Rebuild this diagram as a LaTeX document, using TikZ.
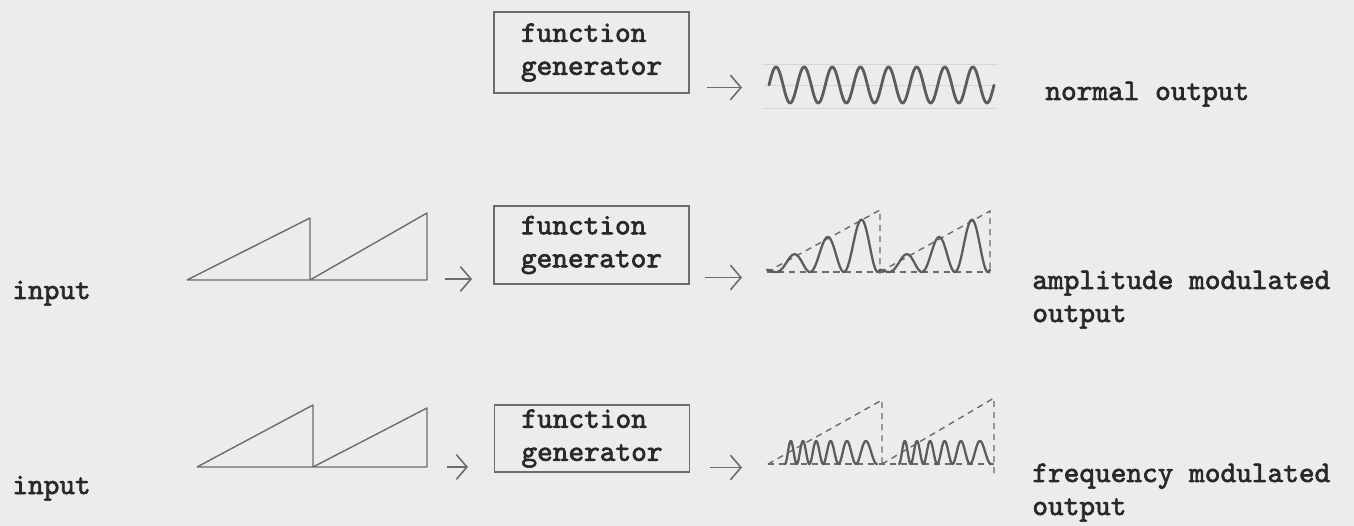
\documentclass[tikz,border=0pt]{standalone}
\usepackage{fontspec}
\usetikzlibrary{arrows.meta}
\newfontfamily\typewriter{lmmono10-regular}[Extension=.otf, FakeBold=2.2]
\definecolor{paper}{RGB}{236,236,234}
\definecolor{ink}{RGB}{40,40,40}
\definecolor{pencil}{RGB}{108,108,108}
\definecolor{wave}{RGB}{92,92,92}
\definecolor{guide}{RGB}{214,214,212}
\begin{document}
\begin{tikzpicture}[x=0.02cm, y=-0.02cm,
  txt/.style={font=\typewriter\fontsize{17}{18.8}\selectfont, text=ink, inner sep=0pt},
  genbox/.style={txt, draw=pencil, line width=0.9pt, align=left, minimum width=3.9cm},
  saw/.style={draw=pencil, line width=0.8pt, line join=round},
  env/.style={draw=pencil, line width=0.8pt, dash pattern=on 3.5pt off 2.8pt},
  sig/.style={draw=wave, line width=1.3pt, line join=round, line cap=round},
  guideline/.style={draw=guide, line width=0.5pt},
  flow/.style={draw=pencil, line width=0.9pt, -{Straight Barb[length=6pt,width=14pt]}},
]
% paper
\fill[paper] (0,0) rectangle (1354,526);
\useasboundingbox (0,0) rectangle (1354,526);

% ---------- generator blocks ----------
\node[genbox, minimum height=1.62cm] (gen1) at (591.5,52.5) {function\\generator};
\node[genbox, minimum height=1.56cm] (gen2) at (591.5,245) {function\\generator};
\node[genbox, minimum height=1.34cm] (gen3) at (592,438.5) {function\\generator};

% ---------- labels ----------
\node[txt, anchor=base west] (in2) at (12,299) {input};
\node[txt, anchor=base west] (in3) at (12,494) {input};
\node[txt, anchor=base west] (out1) at (1045,100) {normal output};
\node[txt, anchor=base west, align=left] (out2) at (1032,322) {amplitude modulated\\output};
\node[txt, anchor=base west, align=left] (out3) at (1032,515) {frequency modulated\\output};

% ---------- sawtooth inputs ----------
\coordinate (s2a) at (187,280);
\coordinate (s2b) at (310,280);
\coordinate (s2c) at (427,280);
\draw[saw] (s2a) -- (310,218) -- (s2b) -- (427,213) -- (s2c) -- (s2a);
\coordinate (s3a) at (197,467);
\coordinate (s3b) at (313,467);
\coordinate (s3c) at (427,467);
\draw[saw] (s3a) -- (313,405) -- (s3b) -- (427,408) -- (s3c) -- (s3a);

% ---------- arrows ----------
\coordinate (a1s) at (707,87.5);  \coordinate (a1e) at (742,87.5);
\coordinate (b1s) at (445,279);   \coordinate (b1e) at (472,279);
\coordinate (b2s) at (705,277.5); \coordinate (b2e) at (742,277.5);
\coordinate (c1s) at (447,467);   \coordinate (c1e) at (468,467);
\coordinate (c2s) at (710,467.5); \coordinate (c2e) at (742,467.5);
\draw[flow] (a1s) -- (a1e);
\draw[flow] (b1s) -- (b1e);
\draw[flow] (b2s) -- (b2e);
\draw[flow] (c1s) -- (c1e);
\draw[flow] (c2s) -- (c2e);

% ---------- normal output: plain sine ----------
\draw[guideline] (762,64) -- (998,64);
\draw[guideline] (765,85) -- (996,85);
\draw[guideline] (762,108) -- (996,108);
\draw[sig, line width=1.6pt] plot[domain=0:1, samples=260] ({769 + 225*\x}, {85 - 18*sin(2880*\x)});

% ---------- amplitude modulated output ----------
\draw[env] (767,272) -- (880,210) -- (880,274);
\draw[env] (880,272) -- (990,211) -- (990,274);
\draw[env] (767,272) -- (990,272);
\foreach \xo/\w in {767/113, 880/110}{
  \draw[sig] plot[domain=0:1, samples=160]
    ({\xo + \w*\x}, {272 - (4 + 58*\x)*(1 - cos(1199*\x - 95.7))/2});
}

% ---------- frequency modulated output ----------
\draw[env] (768,464) -- (882,400) -- (882,466);
\draw[env] (882,464) -- (994,398) -- (994,478);
\draw[env] (768,464) -- (994,464);
\foreach \xo in {768, 882}{
  \draw[sig] plot[domain=0:1, samples=240]
    ({\xo + 17 + 92*\x}, {464 - 11.5*(1 - cos(360*6*(1.35*\x - 0.35*\x*\x)))});
}
\end{tikzpicture}
\end{document}
